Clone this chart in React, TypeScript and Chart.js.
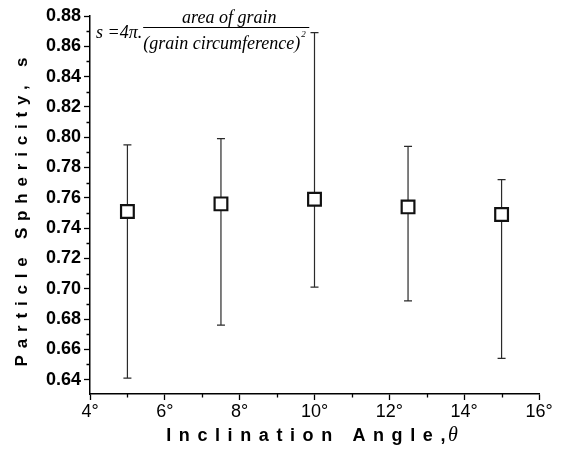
import React, { useEffect, useRef } from 'react';
import { Chart, registerables } from 'chart.js';

Chart.register(...registerables);

const angles = [5, 7.5, 10, 12.5, 15];
const sphericity = [0.751, 0.756, 0.759, 0.754, 0.749];
const upperBound = [0.795, 0.799, 0.869, 0.794, 0.772];
const lowerBound = [0.641, 0.676, 0.701, 0.692, 0.654];

const xTickValues = [4, 6, 8, 10, 12, 14, 16];
const xMinorTicks = [5, 7, 9, 11, 13, 15];
const yTickValues = [0.64, 0.66, 0.68, 0.7, 0.72, 0.74, 0.76, 0.78, 0.8, 0.82, 0.84, 0.86, 0.88];
const yMinorTicks = [0.65, 0.67, 0.69, 0.71, 0.73, 0.75, 0.77, 0.79, 0.81, 0.83, 0.85, 0.87];

const xTitle = 'Inclination Angle,';
const xTitleSymbol = 'θ';
const yTitle = 'Particle Sphericity, s';
const formulaLead = 's =4π.';
const formulaNumerator = 'area of grain';
const formulaDenominator = '(grain circumference)';
const formulaExponent = '2';

const SANS = '"Liberation Sans", Arial, sans-serif';
const SERIF = '"Liberation Serif", "Times New Roman", serif';

const decorPlugin = {
  id: 'decor',
  beforeDatasetsDraw(chart: any) {
    const ctx = chart.ctx;
    const xs = chart.scales.x;
    const ys = chart.scales.y;
    ctx.save();
    ctx.strokeStyle = '#2a2a2a';
    ctx.lineWidth = 1.2;
    for (let i = 0; i < angles.length; i++) {
      const x = xs.getPixelForValue(angles[i]);
      const yt = ys.getPixelForValue(upperBound[i]);
      const yb = ys.getPixelForValue(lowerBound[i]);
      ctx.beginPath();
      ctx.moveTo(x, yt);
      ctx.lineTo(x, yb);
      ctx.moveTo(x - 4, yt);
      ctx.lineTo(x + 4, yt);
      ctx.moveTo(x - 4, yb);
      ctx.lineTo(x + 4, yb);
      ctx.stroke();
    }
    ctx.restore();
  },
  afterDraw(chart: any) {
    const ctx = chart.ctx;
    const xs = chart.scales.x;
    const ys = chart.scales.y;
    const area = chart.chartArea;
    ctx.save();
    // minor ticks
    ctx.strokeStyle = '#000';
    ctx.lineWidth = 1.3;
    ctx.beginPath();
    for (const v of yMinorTicks) {
      const y = Math.round(ys.getPixelForValue(v)) + 0.5;
      ctx.moveTo(area.left - 3.5, y);
      ctx.lineTo(area.left, y);
    }
    for (const v of xMinorTicks) {
      const x = Math.round(xs.getPixelForValue(v)) + 0.5;
      ctx.moveTo(x, area.bottom);
      ctx.lineTo(x, area.bottom + 3.5);
    }
    ctx.stroke();

    // axis titles
    ctx.fillStyle = '#000';
    ctx.textBaseline = 'middle';
    ctx.textAlign = 'left';
    // x title
    const xFont = `bold 18px ${SANS}`;
    const symFont = `italic 20px ${SERIF}`;
    ctx.font = xFont;
    (ctx as any).letterSpacing = '7.6px';
    const w1 = ctx.measureText(xTitle).width;
    (ctx as any).letterSpacing = '0px';
    ctx.font = symFont;
    const w2 = ctx.measureText(xTitleSymbol).width;
    const cx = (area.left + area.right) / 2;
    const sx = cx - (w1 + w2) / 2;
    ctx.font = xFont;
    (ctx as any).letterSpacing = '7.6px';
    ctx.fillText(xTitle, sx, 436);
    (ctx as any).letterSpacing = '0px';
    ctx.font = symFont;
    ctx.fillText(xTitleSymbol, sx + w1 - 5, 436);

    // y title
    ctx.save();
    ctx.translate(22, 212);
    ctx.rotate(-Math.PI / 2);
    ctx.font = `bold 17px ${SANS}`;
    (ctx as any).letterSpacing = '6.8px';
    const wy = ctx.measureText(yTitle).width - 6.8;
    ctx.textAlign = 'left';
    ctx.fillText(yTitle, -wy / 2, 0);
    ctx.restore();
    (ctx as any).letterSpacing = '0px';

    // formula
    ctx.font = `italic 18px ${SERIF}`;
    ctx.textAlign = 'left';
    const lx = area.left + 6;
    ctx.fillText(formulaLead, lx, 33);
    const leadW = ctx.measureText(formulaLead).width;
    const fx = lx + leadW + 1;
    const denW = ctx.measureText(formulaDenominator).width;
    const lineEnd = fx + denW + 9;
    ctx.fillText(formulaDenominator, fx, 44);
    ctx.textAlign = 'center';
    ctx.fillText(formulaNumerator, (fx + lineEnd) / 2 + 3, 18);
    ctx.font = `italic 9px ${SERIF}`;
    ctx.textAlign = 'left';
    ctx.fillText(formulaExponent, fx + denW + 1, 35);
    ctx.strokeStyle = '#000';
    ctx.lineWidth = 1;
    ctx.beginPath();
    ctx.moveTo(fx, 27.5);
    ctx.lineTo(lineEnd, 27.5);
    ctx.stroke();

    ctx.restore();
  },
};

export default function App() {
  const canvasRef = useRef<HTMLCanvasElement | null>(null);

  useEffect(() => {
    if (!canvasRef.current) return;
    const chart = new Chart(canvasRef.current, {
      type: 'scatter',
      data: {
        datasets: [
          {
            label: 'Particle sphericity',
            data: angles.map((a, i) => ({ x: a, y: sphericity[i] })),
            pointStyle: 'rect',
            pointRadius: 9,
            pointHoverRadius: 9,
            pointBorderWidth: 2.2,
            borderColor: '#111',
            backgroundColor: '#fff',
          },
        ],
      },
      options: {
        animation: false,
        responsive: false,
        events: [],
        layout: { padding: { left: 0, top: 16, right: 25, bottom: 0 } },
        plugins: {
          legend: { display: false },
          tooltip: { enabled: false },
        },
        scales: {
          x: {
            type: 'linear',
            min: 4,
            max: 16,
            afterBuildTicks: (scale: any) => {
              scale.ticks = xTickValues.map((v) => ({ value: v }));
            },
            afterFit: (scale: any) => {
              scale.height = 58;
            },
            grid: {
              drawOnChartArea: false,
              drawTicks: true,
              tickLength: 6,
              tickColor: '#000',
              tickWidth: 1.3,
            },
            border: { display: true, color: '#000', width: 1.5 },
            ticks: {
              color: '#000',
              padding: 1,
              font: { family: SANS, size: 18 },
              callback: (v: any) => `${v}°`,
              maxRotation: 0,
            },
          },
          y: {
            type: 'linear',
            min: 0.6305,
            max: 0.88,
            afterBuildTicks: (scale: any) => {
              scale.ticks = yTickValues.map((v) => ({ value: v }));
            },
            afterFit: (scale: any) => {
              scale.width = 90;
            },
            grid: {
              drawOnChartArea: false,
              drawTicks: true,
              tickLength: 6,
              tickColor: '#000',
              tickWidth: 1.3,
            },
            border: { display: true, color: '#000', width: 1.5 },
            ticks: {
              color: '#000',
              padding: 3,
              font: { family: SANS, size: 18, weight: 'bold' },
              callback: (v: any) => Number(v).toFixed(2),
            },
          },
        },
      },
      plugins: [decorPlugin],
    });
    return () => chart.destroy();
  }, []);

  return (
    <div style={{ position: 'absolute', left: 0, top: 0, width: 564, height: 452, background: '#fff' }}>
      <canvas ref={canvasRef} width={564} height={452} />
    </div>
  );
}
